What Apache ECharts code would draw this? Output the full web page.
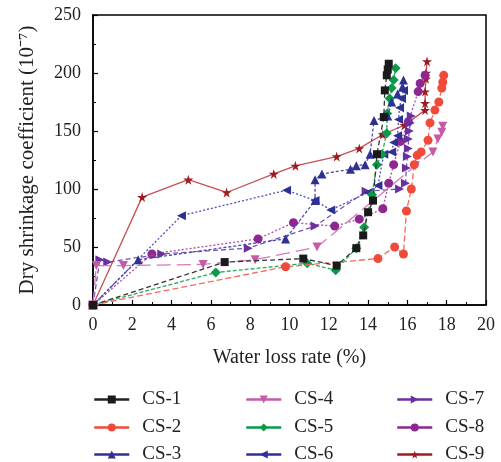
<!DOCTYPE html>
<html>
<head>
<meta charset="utf-8">
<script src="https://cdn.jsdelivr.net/npm/echarts@6/dist/echarts.min.js"></script>
<style>html,body{margin:0;padding:0;background:#fff}#c{width:501px;height:462px}</style>
</head>
<body>
<div id="c"></div>
<script>
var seriesNames = ['CS-1','CS-2','CS-3','CS-4','CS-5','CS-6','CS-7','CS-8','CS-9'];
var xTicks = [0,2,4,6,8,10,12,14,16,18,20];
var yTicks = [0,50,100,150,200,250];

var cs1 = [[0,0],[6.7,37],[10.7,40],[12.4,34],[13.4,49],[13.75,60],[14.0,80],[14.25,90],[14.45,130],[14.8,162],[14.85,185],[14.95,198],[15.0,203],[15.05,208]];
var cs2 = [[0,0],[9.8,33],[14.5,40],[15.35,50],[15.8,44],[15.95,81],[16.2,100],[16.35,121],[16.5,129],[16.7,132],[17.05,142],[17.15,157],[17.4,168],[17.6,175],[17.75,187],[17.8,192],[17.85,198]];
var cs3 = [[0,0],[2.3,39],[9.8,57],[11.3,90],[11.3,108],[11.65,113],[13.1,117],[13.4,120],[13.85,121],[14.1,130],[14.3,159],[15.0,163],[15.2,175],[15.5,182],[15.75,188],[15.8,194]];
var cs4 = [[0,0],[0.17,34],[1.55,34],[5.6,35],[8.25,39],[11.4,50],[16.4,120],[17.3,132],[17.55,143],[17.75,149],[17.8,154]];
var cs5 = [[0,0],[6.25,28],[10.9,36],[12.35,30],[13.4,49],[13.8,67],[14.2,95],[14.45,121],[14.7,130],[14.95,148],[14.97,165],[15.1,178],[15.2,187],[15.3,194],[15.4,204]];
var cs6 = [[0,0],[4.5,77],[9.85,99],[11.3,90],[12.1,82],[14.0,97],[14.5,103],[14.8,130],[15.2,132],[15.3,140],[15.5,146],[15.55,160],[15.6,170],[15.7,178],[15.8,185]];
var cs7 = [[0,0],[0.35,39],[0.75,37],[3.5,44],[7.9,49],[11.3,68],[13.9,98],[15.6,100],[15.9,105],[15.95,118],[16.0,128],[16.05,135],[16.05,143],[16.1,150],[16.15,157],[16.2,163]];
var cs8 = [[0,0],[3.0,44],[8.4,57],[10.2,71],[12.3,68],[13.55,74],[14.75,83],[15.05,105],[15.3,121],[15.65,141],[16.05,158],[16.55,184],[16.65,191],[16.9,198]];
var cs9 = [[0,0],[2.5,93],[4.85,108],[6.8,97],[9.2,113],[10.3,120],[12.4,128],[13.55,135],[14.75,147],[15.85,155],[16.9,168],[16.9,174],[16.9,184],[16.95,195],[16.95,200],[17.0,210]];

var allData = [cs1,cs2,cs3,cs4,cs5,cs6,cs7,cs8,cs9];
var colors = ['#1a1a1a','#f04a3a','#2e3192','#c75aa8','#0a9a48','#2e3192','#6a2fa0','#8e278f','#9e1b22'];
var lineColors = ['#333333','#f46a5c','#4848b0','#d27abd','#2aaa60','#4a50c0','#7a50b8','#b04aa8','#c85050'];
var legendLineColors = ['#222222','#f04a3a','#2e3192','#c75aa8','#0a9a48','#2e3192','#6a2fa0','#8e278f','#9e1b22'];
var symbols = ['rect','circle','triangle','triangle','diamond','triangle','triangle','circle','path://M50,0 L61,35 L98,35 L68,57 L79,91 L50,70 L21,91 L32,57 L2,35 L39,35 Z'];
var rotates = [0,0,0,180,0,90,-90,0,0];
var sizes = [8,9,9,9,10,9,9,9,10];
var dashes = [[5,3],[6,3],[3,2],[14,6],[4,2],[2,2],[5,3],[2,2],'solid'];

var series = allData.map(function(d,i){
  return {
    name: seriesNames[i], type:'line', data:d,
    symbol: symbols[i], symbolSize: sizes[i], symbolRotate: rotates[i],
    itemStyle:{color:colors[i]},
    lineStyle:{color:lineColors[i], width:1.3, type:dashes[i]},
    emphasis:{disabled:true}, animation:false, z: 10-i
  };
});

var font = 'Liberation Serif';
var colLefts = [88,240,391];
var rowTops = [385,413,440];
var legends = seriesNames.map(function(n,i){
  return {
    data:[{name:n, lineStyle:{type:'solid', width:2.5, color:legendLineColors[i]}}],
    left: colLefts[Math.floor(i/3)], top: rowTops[i%3],
    itemWidth:35, itemHeight:10,
    textStyle:{fontFamily:font, fontSize:19, color:'#222', padding:[0,0,0,8]},
    selectedMode:false
  };
});
var chart = echarts.init(document.getElementById('c'), null, {renderer:'canvas'});
chart.setOption({
  backgroundColor:'#fff',
  animation:false,
  grid:{left:93, top:15, right:15, bottom:157, show:true, borderColor:'#000', borderWidth:1.5, backgroundColor:'transparent'},
  legend: legends,
  xAxis:{type:'value', min:0, max:20, interval:2,
    name:'Water loss rate (%)', nameLocation:'middle', nameGap:43,
    nameTextStyle:{fontFamily:font, fontSize:20, color:'#222'},
    axisLine:{lineStyle:{color:'#000', width:1.5}},
    axisTick:{inside:true, length:5, lineStyle:{color:'#000', width:1.2}},
    minorTick:{show:true, splitNumber:2, length:3, lineStyle:{color:'#000'}},
    splitLine:{show:false},
    axisLabel:{fontFamily:font, fontSize:18, color:'#222', margin:11,
      formatter:function(v){return xTicks.indexOf(v)>=0?String(v):'';}}
  },
  yAxis:{type:'value', min:0, max:250, interval:50,
    name:'Dry shrinkage coefficient (10\u207B\u2077)', nameLocation:'middle', nameGap:55,
    nameTextStyle:{fontFamily:font, fontSize:21, color:'#222'},
    axisLine:{lineStyle:{color:'#000', width:1.5}},
    axisTick:{inside:true, length:5, lineStyle:{color:'#000', width:1.2}},
    minorTick:{show:true, splitNumber:2, length:3, lineStyle:{color:'#000'}},
    splitLine:{show:false},
    axisLabel:{fontFamily:font, fontSize:18, color:'#222', margin:12,
      formatter:function(v){return yTicks.indexOf(v)>=0?String(v):'';}}
  },
  series: series
});
</script>
</body>
</html>
